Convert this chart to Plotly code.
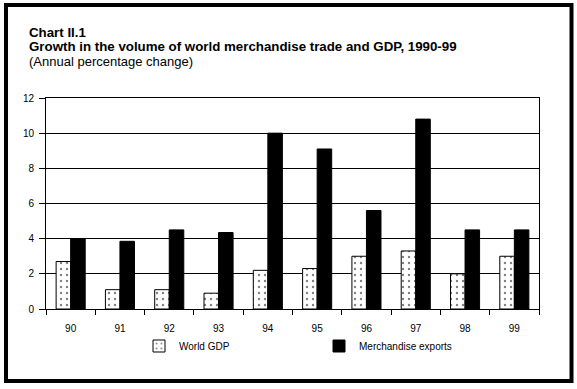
import plotly.graph_objects as go

years = ["90", "91", "92", "93", "94", "95", "96", "97", "98", "99"]
world_gdp = [2.7, 1.1, 1.1, 0.9, 2.2, 2.3, 3.0, 3.3, 2.0, 3.0]
merch_exports = [4.0, 3.85, 4.5, 4.35, 10.0, 9.1, 5.6, 10.8, 4.5, 4.5]

W, H = 577, 389
ML, MR, MT, MB = 46, 38, 98, 80
PW = W - ML - MR
PH = H - MT - MB


def px_x(p):
    return (p - ML) / PW


def px_y(p):
    return (H - MB - p) / PH


fig = go.Figure()
fig.add_trace(go.Bar(
    x=years, y=world_gdp, name="World GDP",
    marker=dict(color="white", line=dict(color="black", width=1),
                pattern=dict(shape=".", fgcolor="black", bgcolor="white",
                             size=6, solidity=0.12)),
))
fig.add_trace(go.Bar(
    x=years, y=merch_exports, name="Merchandise exports",
    marker=dict(color="black", line=dict(color="black", width=1)),
))

font = "Liberation Sans, Arial, sans-serif"

fig.update_layout(
    width=W, height=H,
    margin=dict(l=ML, r=MR, t=MT, b=MB),
    paper_bgcolor="white", plot_bgcolor="white",
    barmode="group", bargap=0.41, bargroupgap=0,
    font=dict(family=font, size=10, color="black"),
    showlegend=True,
    legend=dict(orientation="h", x=px_x(139), xanchor="left",
                y=px_y(346), yanchor="middle",
                entrywidth=135, entrywidthmode="pixels",
                font=dict(size=10), bgcolor="rgba(0,0,0,0)"),
    xaxis=dict(type="category", tickson="boundaries", ticks="outside",
               ticklen=5, tickcolor="black", showline=True, linecolor="black",
               linewidth=1, mirror=True, showgrid=False,
               ticklabelstandoff=10, tickfont=dict(size=10)),
    yaxis=dict(range=[0, 12], dtick=2, ticks="outside", ticklen=6,
               tickcolor="black", showline=True, linecolor="black",
               linewidth=1, mirror=True, showgrid=True, gridcolor="black",
               gridwidth=1, zeroline=False, ticklabelstandoff=3,
               tickfont=dict(size=10)),
)

anns = [
    ("<b>Chart II.1</b>", 32.5, 13.3),
    ("<b>Growth in the volume of world merchandise trade and GDP, 1990-99</b>", 46.5, 13.3),
    ("(Annual percentage change)", 61, 13),
]
for text, yp, fs in anns:
    fig.add_annotation(text=text, xref="paper", yref="paper",
                       x=px_x(27), y=px_y(yp), xanchor="left", yanchor="middle",
                       showarrow=False, font=dict(size=fs, family=font))

fig.add_shape(type="rect", xref="paper", yref="paper",
              x0=px_x(6), x1=px_x(571.5), y0=px_y(381), y1=px_y(5),
              line=dict(color="black", width=4), fillcolor="rgba(0,0,0,0)",
              layer="above")

fig.write_html("out.html", config={"displayModeBar": False},
               post_script="document.body.style.margin='0';document.body.style.overflow='hidden';")
